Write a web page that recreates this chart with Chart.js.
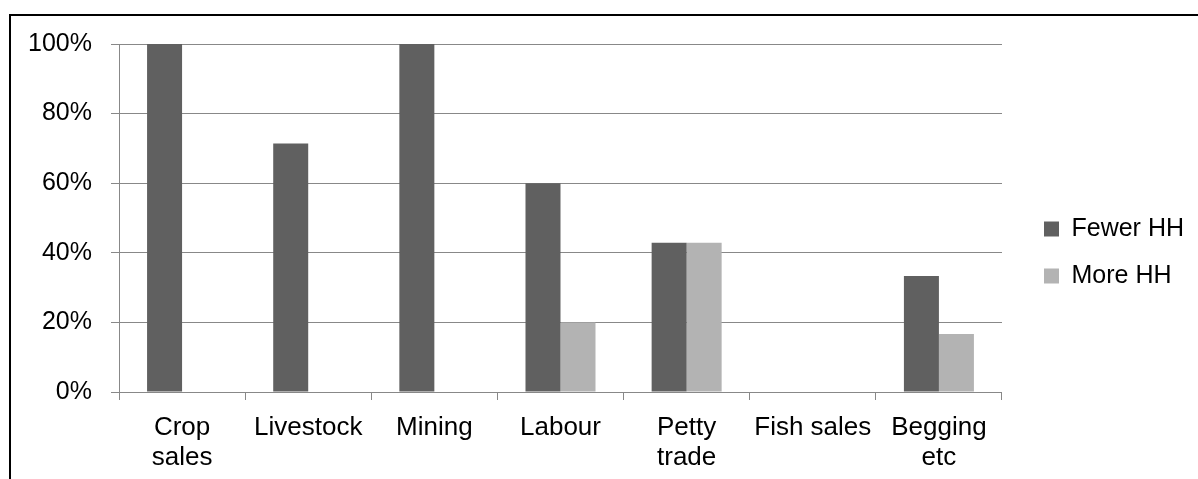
<!DOCTYPE html>
<html>
<head>
<meta charset="utf-8">
<script src="https://cdn.jsdelivr.net/npm/chart.js@4/dist/chart.umd.min.js"></script>
<style>
  html, body { margin: 0; padding: 0; background: #fff; overflow: hidden; }
  #frame { position: absolute; left: 9px; top: 14px; width: 1300px; height: 600px; border: 2px solid #000; box-sizing: border-box; }
  #wrap { position: absolute; left: 0; top: 0; width: 1198px; height: 479px; }
</style>
</head>
<body>
<div id="frame"></div>
<div id="wrap"><canvas id="chart" width="1198" height="479"></canvas></div>
<script>
// Income sources, share of households
const categories = [['Crop', 'sales'], 'Livestock', 'Mining', 'Labour', ['Petty', 'trade'], 'Fish sales', ['Begging', 'etc']];
const fewerHH = [100, 71.4, 100, 60, 42.9, 0, 33.3];
const moreHH = [0, 0, 0, 20, 42.9, 0, 16.7];
const seriesNames = ['Fewer HH', 'More HH'];
const yTicks = [0, 20, 40, 60, 80, 100];

const FONT = 'Liberation Sans, Arial, sans-serif';
const GRID = '#888888';

// nudges the right-hand legend block into place after layout
const legendOffset = {
  id: 'legendOffset',
  afterLayout(chart) {
    const lg = chart.legend;
    if (!lg) return;
    const dx = 20, dy = -9;
    lg.left += dx; lg.right += dx;
    lg.top += dy; lg.bottom += dy;
  }
};

new Chart(document.getElementById('chart'), {
  type: 'bar',
  data: {
    labels: categories,
    datasets: [
      { label: seriesNames[0], data: fewerHH, backgroundColor: '#606060', borderWidth: 0 },
      { label: seriesNames[1], data: moreHH, backgroundColor: '#b3b3b3', borderWidth: 0 }
    ]
  },
  options: {
    responsive: false,
    animation: false,
    events: [],
    datasets: { bar: { categoryPercentage: 0.555, barPercentage: 1 } },
    layout: { padding: { left: 0, top: 44, right: 24, bottom: 0 } },
    scales: {
      x: {
        offset: true,
        grid: { offset: true, drawOnChartArea: false, drawTicks: true, tickLength: 8, color: GRID },
        border: { color: GRID, width: 1 },
        ticks: { color: '#000', font: { family: FONT, size: 26, lineHeight: 1.15 }, padding: 13, maxRotation: 0, autoSkip: false },
        afterFit(scale) { scale.height = 87; }
      },
      y: {
        min: 0, max: 100,
        afterBuildTicks(scale) { scale.ticks = yTicks.map(v => ({ value: v })); },
        grid: { color: GRID, tickLength: 8, drawTicks: true },
        border: { color: GRID, width: 1 },
        ticks: { color: '#000', font: { family: FONT, size: 25 }, padding: 19, callback: v => v + '%' },
        afterFit(scale) { scale.width = 119; }
      }
    },
    plugins: {
      legend: {
        position: 'right',
        labels: { color: '#000', font: { family: FONT, size: 25 }, boxWidth: 15, boxHeight: 15, padding: 22 }
      },
      tooltip: { enabled: false }
    }
  },
  plugins: [legendOffset]
});
</script>
</body>
</html>
